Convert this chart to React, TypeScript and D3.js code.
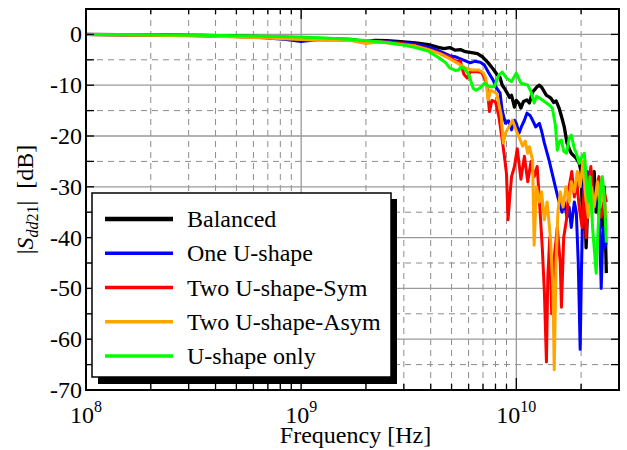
import React, { useEffect } from "react";
import * as d3 from "d3";

// ---- data: [frequency in GHz, |Sdd21| in dB] ----
const seriesNames = ["Balanced", "One U-shape", "Two U-shape-Sym", "Two U-shape-Asym", "U-shape only"];
const seriesColors = ["#000000", "#0000ff", "#ff0000", "#ffa500", "#00ff00"];

const balanced: [number, number][] = [
  [0.1, 0], [0.2, -0.1], [0.35, -0.2], [0.6, -0.4], [1.0, -0.7], [1.3, -0.9], [1.7, -1.0], [2.0, -1.4],
  [2.2, -1.2], [2.5, -1.25], [2.9, -1.45], [3.4, -1.65], [3.9, -2.0], [4.3, -2.5], [4.6, -2.8], [4.9, -2.6],
  [5.2, -3.1], [5.5, -3.0], [5.8, -3.4], [6.2, -3.6], [6.6, -3.8], [7.0, -4.5], [7.4, -5.6], [7.8, -6.8],
  [8.1, -7.8], [8.4, -8.5], [8.6, -10.0], [8.8, -10.6], [9.0, -11.3], [9.3, -12.4], [9.5, -12.0], [9.8, -14.3],
  [10.0, -13.0], [10.3, -13.6], [10.5, -14.5], [10.8, -13.2], [11.2, -12.9], [11.5, -13.5], [11.9, -11.3],
  [12.2, -10.8], [12.5, -10.3], [12.8, -10.0], [13.1, -10.4], [13.5, -11.3], [13.8, -12.0], [14.2, -12.3],
  [14.5, -12.6], [14.9, -13.4], [15.3, -13.1], [15.8, -14.5], [16.3, -16.5], [16.7, -18.2], [17.2, -21.4],
  [17.6, -22.5], [18.0, -23.4], [18.6, -24.0], [19.0, -24.4], [19.6, -25.4], [20.0, -27], [20.3, -36],
  [20.7, -30], [21.1, -42], [21.5, -33], [21.8, -28], [22.3, -31], [23.0, -27], [23.5, -35], [24.3, -30],
  [25.1, -38], [25.6, -30], [26.2, -47],
];

const oneU: [number, number][] = [
  [0.1, 0], [0.2, -0.1], [0.35, -0.25], [0.6, -0.5], [0.85, -1.0], [1.0, -1.4], [1.15, -1.1], [1.4, -0.9],
  [1.7, -1.1], [2.0, -1.6], [2.3, -1.3], [2.9, -1.6], [3.5, -2.0], [4.0, -2.6], [4.4, -3.3], [4.9, -4.2],
  [5.2, -4.4], [5.5, -4.8], [5.8, -5.2], [6.1, -5.6], [6.4, -5.3], [6.8, -5.5], [7.1, -6.0], [7.4, -7.4],
  [7.8, -9.0], [8.1, -10.6], [8.4, -11.5], [8.6, -15.0], [8.9, -17.5], [9.2, -17.0], [9.5, -18.8],
  [9.8, -16.9], [10.0, -17.5], [10.3, -19.4], [10.6, -18], [10.9, -16.9], [11.2, -15.5], [11.6, -16.0],
  [11.9, -16.9], [12.3, -18.2], [12.8, -17.5], [13.1, -19.0], [13.5, -21.4], [14.2, -24.8], [14.7, -27.5],
  [15.3, -30.6], [15.8, -33], [16.3, -35], [16.7, -33], [17.2, -36], [17.6, -34], [18.0, -38], [18.6, -33],
  [19.0, -35], [19.4, -45], [19.8, -62], [20.1, -45], [20.5, -30], [20.9, -28], [21.4, -27], [21.8, -31],
  [22.3, -29], [23.0, -33], [23.5, -31], [24.3, -36], [24.8, -50], [25.3, -38], [25.7, -42], [26.2, -41],
];

const twoUSym: [number, number][] = [
  [0.1, 0], [0.2, -0.1], [0.35, -0.25], [0.6, -0.5], [1.0, -0.9], [1.4, -1.0], [1.7, -1.1], [2.0, -1.5],
  [2.5, -1.5], [2.9, -1.8], [3.4, -2.2], [3.9, -2.9], [4.4, -3.7], [4.9, -4.5], [5.2, -5.2], [5.5, -5.3],
  [5.7, -7.8], [5.9, -8.6], [6.1, -7.4], [6.5, -7.3], [6.9, -7.5], [7.1, -8.5], [7.3, -10.0], [7.5, -15.2],
  [7.7, -13.0], [8.0, -13.3], [8.3, -16.2], [8.6, -20.8], [8.8, -24], [9.0, -27.4], [9.15, -36.5],
  [9.3, -32.6], [9.5, -28], [9.8, -26], [10.1, -22.5], [10.5, -28.5], [10.9, -24], [11.3, -29], [11.7, -25],
  [12.1, -28], [12.5, -26], [12.9, -35], [13.2, -42], [13.5, -50.7], [13.8, -64.5], [14.0, -48], [14.3, -40],
  [14.6, -55], [15.0, -44], [15.5, -38], [16.0, -45], [16.2, -53.7], [16.6, -40], [17.1, -36.5], [17.6, -30],
  [18.1, -27], [18.6, -32], [19.1, -29], [19.6, -34], [20.2, -38], [20.7, -30], [21.1, -40], [21.6, -30],
  [22.2, -26], [22.8, -33], [23.5, -31], [24.2, -28], [24.8, -36], [25.4, -30], [26.2, -33],
];

const twoUAsym: [number, number][] = [
  [0.1, 0], [0.2, -0.15], [0.35, -0.3], [0.6, -0.6], [1.0, -1.0], [1.3, -1.2], [1.7, -1.2], [2.0, -1.8],
  [2.3, -1.5], [2.9, -2.0], [3.4, -2.3], [3.9, -3.0], [4.4, -3.8], [4.9, -4.8], [5.4, -5.8], [5.8, -6.6],
  [6.2, -7.0], [6.7, -7.0], [7.0, -7.5], [7.2, -8.5], [7.4, -12.9], [7.6, -11.0], [8.1, -11.6], [8.5, -15.9],
  [8.7, -21.4], [8.9, -19.4], [9.3, -18], [9.6, -16.9], [10.0, -19], [10.3, -20.2], [10.7, -22], [11.0, -21],
  [11.3, -23.4], [11.5, -22.1], [11.9, -24.8], [12.1, -41.5], [12.4, -30], [12.8, -33], [13.1, -31],
  [13.5, -36.5], [13.9, -33], [14.4, -40], [14.8, -50], [15.0, -66], [15.3, -45], [15.6, -35], [16.0, -31],
  [16.5, -34], [17.0, -30], [17.6, -33], [18.0, -29], [18.6, -31], [19.2, -27], [19.8, -30], [20.4, -25],
  [21.0, -32], [21.6, -36], [22.3, -30], [23.0, -34], [23.8, -29], [24.5, -34], [25.3, -31], [26.2, -36],
];

const uOnly: [number, number][] = [
  [0.1, 0], [0.2, -0.05], [0.35, -0.15], [0.6, -0.3], [1.0, -0.5], [1.3, -0.7], [1.7, -1.0], [2.0, -1.2],
  [2.5, -1.6], [2.9, -2.0], [3.4, -2.6], [3.9, -3.3], [4.4, -4.7], [4.7, -5.6], [4.9, -6.6], [5.2, -7.1],
  [5.4, -7.0], [5.5, -6.5], [5.7, -6.6], [6.0, -7.8], [6.3, -10.6], [6.5, -11.0], [6.8, -10.5], [7.1, -9.6],
  [7.5, -10.3], [7.9, -10.3], [8.3, -8.0], [8.6, -7.4], [9.0, -8.6], [9.5, -9.3], [10.0, -7.6], [10.5, -9.6],
  [11.0, -9.8], [11.3, -10.0], [11.7, -11.3], [12.1, -13.5], [12.4, -12.2], [12.8, -12.5], [13.3, -13.0],
  [13.8, -13.5], [14.3, -14.0], [14.7, -14.5], [15.2, -18], [15.5, -22.8], [15.9, -21], [16.2, -20.8],
  [16.6, -23], [17.1, -23.4], [17.6, -20.5], [18.0, -19.8], [18.6, -22.5], [19.0, -23.4], [19.6, -25.4],
  [20.2, -24], [20.7, -23.4], [21.1, -28], [21.6, -33], [22.0, -28], [22.6, -38], [23.0, -42], [23.5, -47],
  [24.0, -38], [24.6, -30], [25.1, -28], [25.6, -32], [26.2, -41],
];

const allSeries = [balanced, oneU, twoUSym, twoUAsym, uOnly];

const yTickValues = [0, -10, -20, -30, -40, -50, -60, -70];
const xDecades = [1e8, 1e9, 1e10];
const xDecadeExponents = ["8", "9", "10"];

// ---- layout ----
const W = 627;
const H = 450;
const left = 86, right = 619, top = 9, bottom = 390;
const FONT = "Liberation Serif, Tinos, DejaVu Serif, Noto Serif, Times New Roman, Times, serif";
const tStyle: React.CSSProperties = { fontFamily: FONT };

export default function App() {
  useEffect(() => {
    document.body.style.margin = "0";
  }, []);

  const x = d3.scaleLog().domain([1e8, 3e10]).range([left, right]);
  const y = d3.scaleLinear().domain([-70, 5]).range([bottom, top]);

  const line = d3
    .line<[number, number]>()
    .x((d) => x(d[0] * 1e9))
    .y((d) => y(d[1]));

  const minorX: number[] = [];
  xDecades.forEach((d) => {
    for (let k = 2; k <= 9; k++) {
      const v = d * k;
      if (v < 3e10) minorX.push(v);
    }
  });
  const minorY = d3.range(-65, 5, 10);
  const allY5 = d3.range(-70, 5.1, 5);

  const legendTop = 219;
  const legendStep = 34.25;

  return (
    <svg width={W} height={H} style={{ position: "absolute", left: 0, top: 0, background: "#fff" }}>
      <defs>
        <clipPath id="plotClip">
          <rect x={left} y={top} width={right - left} height={bottom - top} />
        </clipPath>
      </defs>
      <rect x={0} y={0} width={W} height={H} fill="#fff" />

      {/* grid */}
      <g>
        {minorX.map((v, i) => (
          <line key={"mx" + i} x1={x(v)} x2={x(v)} y1={top} y2={bottom} stroke="#8c8c8c" strokeWidth={1} strokeDasharray="6,5" />
        ))}
        {minorY.map((v, i) => (
          <line key={"my" + i} x1={left} x2={right} y1={y(v)} y2={y(v)} stroke="#8c8c8c" strokeWidth={1} strokeDasharray="6,5" />
        ))}
        {xDecades.slice(1).map((v, i) => (
          <line key={"Mx" + i} x1={x(v)} x2={x(v)} y1={top} y2={bottom} stroke="#9a9a9a" strokeWidth={1.3} />
        ))}
        {yTickValues.map((v, i) => (
          <line key={"My" + i} x1={left} x2={right} y1={y(v)} y2={y(v)} stroke="#9a9a9a" strokeWidth={1.3} />
        ))}
      </g>

      {/* data */}
      <g clipPath="url(#plotClip)">
        {allSeries.map((s, i) => (
          <path
            key={"s" + i}
            d={line(s) || ""}
            fill="none"
            stroke={seriesColors[i]}
            strokeWidth={i === 0 ? 3.3 : 3}
            strokeLinejoin="round"
          />
        ))}
      </g>

      {/* ticks */}
      <g stroke="#000" strokeWidth={1.3}>
        {allY5.map((v, i) => (
          <g key={"yt" + i}>
            <line x1={left} x2={left + 8} y1={y(v)} y2={y(v)} />
            <line x1={right - 8} x2={right} y1={y(v)} y2={y(v)} />
          </g>
        ))}
        {xDecades.map((v, i) => (
          <g key={"xt" + i}>
            <line x1={x(v)} x2={x(v)} y1={bottom} y2={bottom - 12} />
            <line x1={x(v)} x2={x(v)} y1={top} y2={top + 10} />
          </g>
        ))}
        {minorX.map((v, i) => (
          <g key={"xm" + i}>
            <line x1={x(v)} x2={x(v)} y1={bottom} y2={bottom - 6} />
            <line x1={x(v)} x2={x(v)} y1={top} y2={top + 5} />
          </g>
        ))}
      </g>

      {/* frame */}
      <rect x={left} y={top} width={right - left} height={bottom - top} fill="none" stroke="#000" strokeWidth={2} />

      {/* y tick labels */}
      {yTickValues.map((v, i) => (
        <text key={"yl" + i} x={82} y={y(v)} dy="0.33em" textAnchor="end" fontSize={24} fill="#000" style={tStyle}>
          {String(v)}
        </text>
      ))}

      {/* x tick labels */}
      {xDecades.map((v, i) => (
        <text key={"xl" + i} x={x(v)} y={423} textAnchor="middle" fontSize={24} fill="#000" style={tStyle}>
          10
          <tspan fontSize={16} dy={-11}>{xDecadeExponents[i]}</tspan>
        </text>
      ))}

      {/* axis titles */}
      <text x={(left + right) / 2 + 3} y={443} textAnchor="middle" fontSize={24} fill="#000" style={tStyle}>
        Frequency [Hz]
      </text>
      <text transform={`translate(33,${(top + bottom) / 2}) rotate(-90)`} textAnchor="middle" fontSize={24} fill="#000" style={tStyle}>
        <tspan>|</tspan>
        <tspan fontStyle="italic">S</tspan>
        <tspan fontSize={16} dy={5} fontStyle="italic">dd</tspan>
        <tspan fontSize={16}>21</tspan>
        <tspan dy={-5}>|</tspan>
        <tspan>{"\u00a0\u00a0[dB]"}</tspan>
      </text>

      {/* legend */}
      <rect x={98} y={199} width={299} height={185} fill="#000" />
      <rect x={92} y={193} width={299} height={184} fill="#fff" stroke="#000" strokeWidth={1.5} />
      {seriesNames.map((name, i) => {
        const ly = legendTop + i * legendStep;
        return (
          <g key={"lg" + i}>
            <line x1={105} x2={173} y1={ly} y2={ly} stroke={seriesColors[i]} strokeWidth={i === 0 ? 4.5 : 3.5} />
            <text x={187} y={ly + 8} fontSize={24} fill="#000" style={tStyle}>
              {name}
            </text>
          </g>
        );
      })}
    </svg>
  );
}
